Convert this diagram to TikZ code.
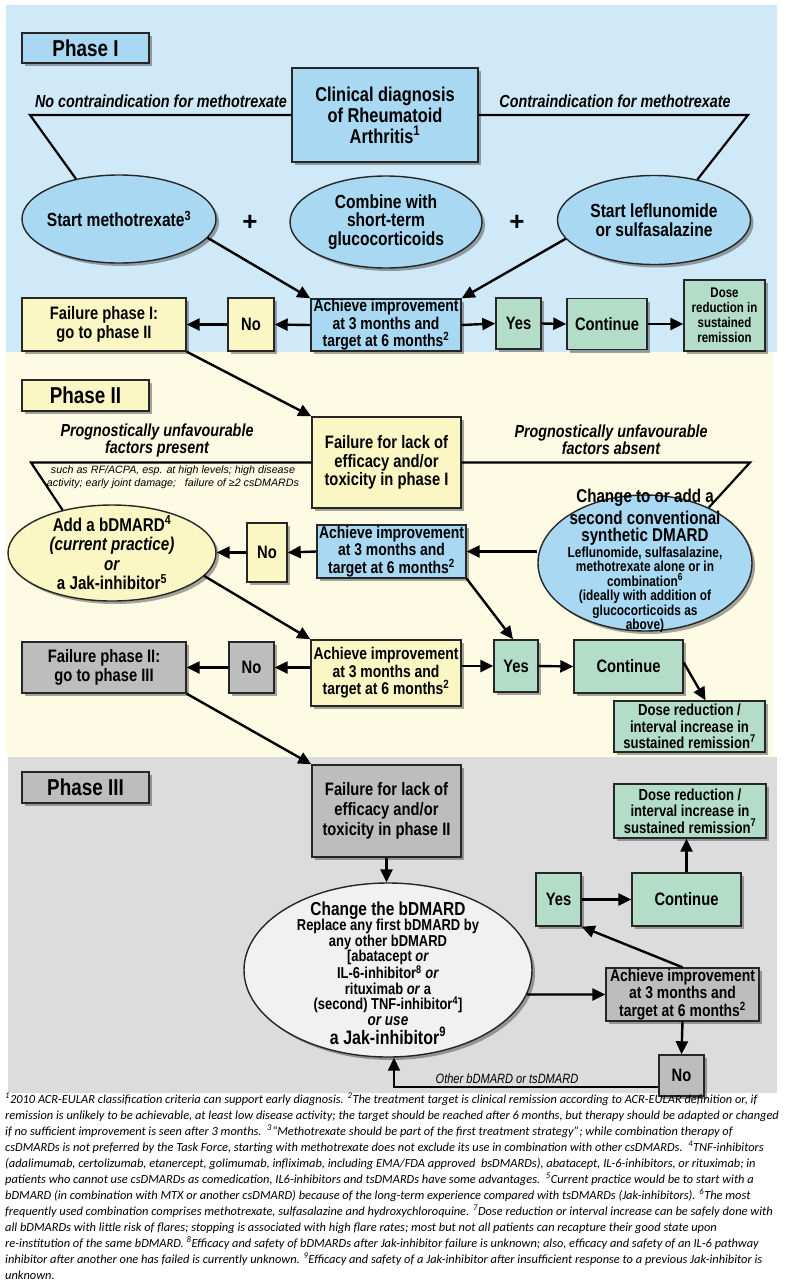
\documentclass[tikz,border=0pt]{standalone}
\usepackage{fontspec}
\setmainfont{Liberation Sans}[FakeStretch=0.82]
\newfontfamily\plainsans{Liberation Sans}
\newfontfamily\fnfont{Carlito}
\usetikzlibrary{shapes.geometric,arrows.meta,shadows}
\definecolor{bgblue}{HTML}{CFE9F8}
\definecolor{bgyellow}{HTML}{FDFBE4}
\definecolor{bggrey}{HTML}{DCDCDC}
\definecolor{boxblue}{HTML}{A8D8F2}
\definecolor{boxyellow}{HTML}{FBF7C4}
\definecolor{boxgreen}{HTML}{B3DDC8}
\definecolor{boxgrey}{HTML}{BDBDBD}
\definecolor{ellgrey}{HTML}{F1F1F1}
\newcommand\cbig{\fontsize{18.5}{17}\selectfont}
\tikzset{
  shd/.style={drop shadow={shadow xshift=3pt, shadow yshift=-3pt, opacity=0.5, fill=black!70}},
  box/.style={draw=black!85, line width=1.4pt, rectangle, inner sep=0pt, align=center, shd,
              font=\bfseries\fontsize{18}{18.5}\selectfont},
  ell/.style={ellipse, draw=black!85, line width=1.4pt, inner sep=0pt, shd},
  etx/.style={align=center, inner sep=0pt, font=\bfseries\fontsize{19}{18.5}\selectfont},
  lab/.style={align=center, inner sep=0pt, font=\bfseries\itshape\fontsize{17.5}{17}\selectfont},
  achfont/.style={font=\bfseries\fontsize{17}{17.5}\selectfont},
  ttl/.style={font=\bfseries\fontsize{23}{23}\selectfont},
  ln/.style={line width=2.2pt, line join=miter},
  arr/.style={line width=2.4pt, -{Triangle[length=13pt,width=12pt]}},
  plus/.style={inner sep=0pt, font=\plainsans\bfseries\fontsize{26}{26}\selectfont},
}
\begin{document}
\begin{tikzpicture}[x=1pt,y=-1pt]
\useasboundingbox (0,0) rectangle (785,1280);
\fill[white] (0,0) rectangle (785,1280);
\fill[bgblue] (6,5) rectangle (777,352);
\fill[bgyellow] (6,352) rectangle (773,757);
\fill[bggrey] (8,757) rectangle (777,1093);

% ---------------- Phase I ----------------
\node[box, fill=boxblue, minimum width=127, minimum height=30, ttl] (ph1) at (85.5,48) {Phase I};
\node[box, fill=boxblue, minimum width=186, minimum height=94, font=\bfseries\fontsize{20}{21}\selectfont] (clin) at (385,115) {Clinical diagnosis\\of Rheumatoid\\Arthritis\textsuperscript{1}};
\node[lab] (lnoci) at (161,101) {No contraindication for methotrexate};
\node[lab] (lci) at (615,101) {Contraindication for methotrexate};

\node[ell, fill=boxblue, minimum width=194, minimum height=88] (e1) at (119,219) {};
\node[etx] (t1) at (e1) {Start methotrexate\textsuperscript{3}};
\node[ell, fill=boxblue, minimum width=192, minimum height=92] (e2) at (386,222) {};
\node[etx] (t2) at (e2) {Combine with\\short-term\\glucocorticoids};
\node[ell, fill=boxblue, minimum width=193, minimum height=89] (e3) at (654,220) {};
\node[etx] (t3) at (e3) {Start leflunomide\\or sulfasalazine};
\node[plus] (pl1) at (250,223) {+};
\node[plus] (pl2) at (517,223) {+};

\coordinate (p1l) at (30,115);
\coordinate (p1r) at (748,115);
\draw[ln] (clin.west) -- (p1l) -- (e1.137);
\draw[ln] (clin.east) -- (p1r) -- (e3.43);

\node[box, fill=boxblue, minimum width=150, minimum height=52, achfont] (a1) at (386,325) {Achieve improvement\\at 3 months and\\target at 6 months\textsuperscript{2}};
\node[box, fill=boxyellow, minimum width=46, minimum height=53] (n1) at (251,324.5) {No};
\node[box, fill=boxyellow, minimum width=164, minimum height=53] (f1) at (104,324.5) {Failure  phase I:\\go to phase II};
\node[box, fill=boxgreen, minimum width=45, minimum height=51] (y1) at (518.5,323.5) {Yes};
\node[box, fill=boxgreen, minimum width=80, minimum height=51] (c1) at (607,324) {Continue};
\node[box, fill=boxgreen, minimum width=81, minimum height=71, font=\bfseries\fontsize{14}{15}\selectfont] (d1) at (724.5,315.5) {Dose\\reduction in\\sustained\\remission};

\draw[arr] (e1.-12) -- (a1.north west);
\draw[arr] (e3.192) -- (a1.north east);
\draw[arr] (a1.west) -- (n1.east);
\draw[arr] (n1.west) -- (f1.east);
\draw[arr] (a1.east) -- (y1.west);
\draw[arr] (y1.east) -- (c1.west);
\draw[arr] (c1.east) -- (c1.east -| d1.west);

% ---------------- Phase II ----------------
\node[box, fill=boxyellow, minimum width=127, minimum height=31, ttl] (ph2) at (85.5,395.5) {Phase II};
\node[box, fill=boxyellow, minimum width=149, minimum height=91] (f2) at (386.5,462.5) {Failure  for lack of\\efficacy and/or\\toxicity in phase I};
\draw[arr] (f1.south east) -- (f2.north west);
\node[lab] (lpres) at (157,440) {Prognostically unfavourable\\factors present};
\node[lab] (labs) at (611,440) {Prognostically unfavourable\\factors absent};
\node[align=center, inner sep=0pt, font=\plainsans\itshape\fontsize{10.7}{13}\selectfont] (lsuch) at (173,477) {such as RF/ACPA, esp. at high levels; high disease\\activity; early joint damage;\ \ \ failure of ≥2 csDMARDs};

\node[ell, fill=boxyellow, minimum width=208, minimum height=96] (e4) at (112,553) {};
\node[etx, font=\bfseries\fontsize{18.5}{19.5}\selectfont] (t4) at (e4) {Add\ a bDMARD\textsuperscript{4}\\\textit{(current practice)}\\\textit{or}\\a Jak-inhibitor\textsuperscript{5}};
\node[ell, fill=boxblue, minimum width=214, minimum height=136] (e5) at (645,563) {};
\node[align=center, inner sep=0pt, font=\bfseries\fontsize{14.5}{14.5}\selectfont] (t5) at (645,561) {\cbig Change to or add a\\[3pt]\cbig second conventional\\[3pt]\cbig synthetic DMARD\\[1pt]Leflunomide, sulfasalazine,\\methotrexate alone or in\\combination\textsuperscript{6}\\(ideally with addition of\\glucocorticoids as\\above)};

\coordinate (p2l) at (31,462.5);
\coordinate (p2r) at (750,462.5);
\draw[ln] (f2.west) -- (p2l) -- (e4.139);
\draw[ln] (f2.east) -- (p2r) -- (e5.41);

\node[box, fill=boxblue, minimum width=149, minimum height=53, achfont] (a2) at (391.5,551.5) {Achieve improvement\\at 3 months and\\target at 6 months\textsuperscript{2}};
\node[box, fill=boxyellow, minimum width=40, minimum height=59] (n2) at (267,552.5) {No};
\draw[arr] (e5.west |- a2.east) -- (a2.east);
\draw[arr] (a2.west) -- (n2.east);
\draw[arr] (n2.west) -- (n2.west -| e4.east);

\node[box, fill=boxgrey, minimum width=164, minimum height=51] (f3) at (104,667.5) {Failure  phase II:\\go to phase III};
\node[box, fill=boxgrey, minimum width=45, minimum height=51] (n3) at (251.5,667.5) {No};
\node[box, fill=boxyellow, minimum width=150, minimum height=66, achfont] (a3) at (386,673) {Achieve improvement\\at 3 months and\\target at 6 months\textsuperscript{2}};
\node[box, fill=boxgreen, minimum width=44, minimum height=52] (y2) at (516,666) {Yes};
\node[box, fill=boxgreen, minimum width=109, minimum height=53] (c2) at (628.5,666.5) {Continue};
\node[box, fill=boxgreen, minimum width=151, minimum height=51, font=\bfseries\fontsize{16}{16.5}\selectfont] (d2) at (689.5,726.5) {Dose reduction /\\interval increase in\\sustained remission\textsuperscript{7}};

\draw[arr] (e4.-14) -- (a3.north west);
\draw[arr] (a2.south east) -- ([xshift=-3pt]y2.north);
\draw[arr] (a3.west |- n3.east) -- (n3.east);
\draw[arr] (n3.west) -- (f3.east);
\draw[arr] (a3.east |- y2.west) -- (y2.west);
\draw[arr] (y2.east) -- (c2.west);
\draw[arr] ([yshift=4pt]c2.east) -- ([xshift=16pt]d2.north);

% ---------------- Phase III ----------------
\node[box, fill=boxgrey, minimum width=127, minimum height=31, ttl] (ph3) at (85.5,787.5) {Phase III};
\node[box, fill=boxgrey, minimum width=149, minimum height=92, font=\bfseries\fontsize{18}{20}\selectfont] (f4) at (386.5,811) {Failure  for lack of\\efficacy and/or\\toxicity in phase II};
\draw[arr] (f3.south east) -- (f4.north west);
\node[box, fill=boxgreen, minimum width=152, minimum height=54, font=\bfseries\fontsize{16}{16.5}\selectfont] (d3) at (690,811) {Dose reduction /\\interval increase in\\sustained remission\textsuperscript{7}};
\node[box, fill=boxgreen, minimum width=45, minimum height=53] (y3) at (558.5,899.5) {Yes};
\node[box, fill=boxgreen, minimum width=109, minimum height=53] (c3) at (686.5,899.5) {Continue};
\node[ell, fill=ellgrey, minimum width=288, minimum height=174] (e6) at (388,970) {};
\node[align=center, inner sep=0pt, font=\bfseries\fontsize{15.8}{15.5}\selectfont] (t6) at (388,973) {{\fontsize{18.8}{18}\selectfont Change the bDMARD}\\Replace any first bDMARD by\\any other bDMARD\\{}[abatacept \textit{or}\\IL-6-inhibitor\textsuperscript{8} \textit{or}\\rituximab \textit{or} a\\(second) TNF-inhibitor\textsuperscript{4}]\\{\fontsize{16.5}{16}\selectfont\textit{or use}}\\[1pt]{\fontsize{19.5}{19}\selectfont a Jak-inhibitor\textsuperscript{9}}};
\node[box, fill=boxgrey, minimum width=153, minimum height=53, achfont] (a4) at (682.5,994.5) {Achieve improvement\\at 3 months and\\target at 6 months\textsuperscript{2}};
\node[box, fill=boxgrey, minimum width=45, minimum height=41] (n4) at (681.5,1075.5) {No};

\draw[arr] (f4.south) -- (f4.south |- e6.north);
\draw[arr] (c3.north) -- (c3.north |- d3.south);
\draw[arr] (y3.east) -- (c3.west);
\draw[arr] (e6.-10) -- (a4.west);
\draw[arr] (a4.north) -- (y3.south east);
\draw[arr] (a4.south) -- (n4.north);
\coordinate (q1) at (394,1087);
\draw[arr, line width=2pt] (n4.west |- q1) -- (q1) -- (q1 |- e6.south);
\node[inner sep=0pt, anchor=south, font=\itshape\fontsize{13.5}{13.5}\selectfont] (lother) at (507,1084) {Other bDMARD or tsDMARD};

% ---------------- Footnotes ----------------
\node[anchor=north west, align=left, inner sep=0pt, font=\fnfont\itshape\fontsize{12.4}{16}\selectfont] (fn) at (5,1093) {%
\textsuperscript{1}2010 ACR-EULAR classification criteria can support early diagnosis. \textsuperscript{2}The treatment target is clinical remission according to ACR-EULAR definition or, if\\
remission is unlikely to be achievable, at least low disease activity; the target should be reached after 6 months, but therapy should be adapted or changed\\
if no sufficient improvement is seen after 3 months.\ \ \textsuperscript{3}“Methotrexate should be part of the first treatment strategy”; while combination therapy of\\
csDMARDs is not preferred by the Task Force, starting with methotrexate does not exclude its use in combination with other csDMARDs.\ \ \textsuperscript{4}TNF-inhibitors\\
(adalimumab, certolizumab, etanercept, golimumab, infliximab, including EMA/FDA approved\ \ bsDMARDs), abatacept, IL-6-inhibitors, or rituximab; in\\
patients who cannot use csDMARDs as comedication, IL6-inhibitors and tsDMARDs have some advantages.\ \ \textsuperscript{5}Current practice would be to start with a\\
bDMARD (in combination with MTX or another csDMARD) because of the long-term experience compared with tsDMARDs (Jak-inhibitors). \textsuperscript{6}The most\\
frequently used combination comprises methotrexate, sulfasalazine and hydroxychloroquine. \textsuperscript{7}Dose reduction or interval increase can be safely done with\\
all bDMARDs with little risk of flares; stopping is associated with high flare rates; most but not all patients can recapture their good state upon\\
re-institution of the same bDMARD. \textsuperscript{8}Efficacy and safety of bDMARDs after Jak-inhibitor failure is unknown; also, efficacy and safety of an IL-6 pathway\\
inhibitor after another one has failed is currently unknown. \textsuperscript{9}Efficacy and safety of a Jak-inhibitor after insufficient response to a previous Jak-inhibitor is\\
unknown.};
\end{tikzpicture}
\end{document}
